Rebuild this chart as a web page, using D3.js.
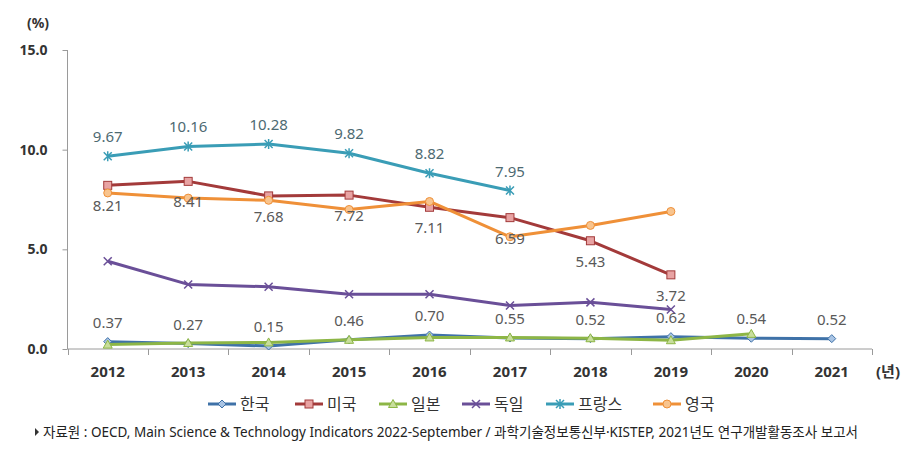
<!DOCTYPE html>
<html><head><meta charset="utf-8">
<script src="https://cdn.jsdelivr.net/npm/d3@7"></script>
<style>body{margin:0;background:#fff}svg{display:block}</style>
</head><body>
<svg id="c" width="901" height="457"></svg>
<script>
const years = ["2012","2013","2014","2015","2016","2017","2018","2019","2020","2021"];
const yTicks = [0, 5, 10, 15];
const korea   = [0.37,0.27,0.15,0.46,0.70,0.55,0.52,0.62,0.54,0.52];
const usa     = [8.21,8.41,7.68,7.72,7.11,6.59,5.43,3.72];
const japan   = [0.22,0.30,0.33,0.46,0.58,0.58,0.54,0.44,0.76];
const germany = [4.40,3.24,3.12,2.75,2.75,2.18,2.34,1.98];
const france  = [9.67,10.16,10.28,9.82,8.82,7.95];
const uk      = [7.83,7.57,7.46,7.00,7.40,5.63,6.20,6.90];
const seriesNames = ["한국","미국","일본","독일","프랑스","영국"];
const sourceText = "자료원 : OECD, Main Science & Technology Indicators 2022-September / 과학기술정보통신부·KISTEP, 2021년도 연구개발활동조사 보고서";

const series = [
  {name: seriesNames[0], data: korea,   line:"#3F72A8", fill:"#A9C4E4", marker:"diamond", label:"above", lc:"#595959"},
  {name: seriesNames[1], data: usa,     line:"#A33A3A", fill:"#E8A3A3", marker:"square",  label:"below", lc:"#595959"},
  {name: seriesNames[2], data: japan,   line:"#8DB646", fill:"#C8DE9C", marker:"triangle",label:null},
  {name: seriesNames[3], data: germany, line:"#6A4F98", fill:"#6A4F98", marker:"x",       label:null},
  {name: seriesNames[4], data: france,  line:"#3A9DB6", fill:"#3A9DB6", marker:"star",    label:"above", lc:"#4d6a72"},
  {name: seriesNames[5], data: uk,      line:"#EF9038", fill:"#F8C48E", marker:"circle",  label:null}
];

const svg = d3.select("#c");
const x = d3.scaleBand().domain(years).range([67.5, 872]);
const y = d3.scaleLinear().domain([0, 15]).range([349, 50]);
const font = "'Noto Sans','Noto Sans CJK KR',sans-serif";

// axes
const yAxis = d3.axisLeft(y).tickValues(yTicks).tickSize(5).tickPadding(15).tickFormat(d3.format(".1f"));
const gy = svg.append("g").attr("transform","translate(67.5,0)").call(yAxis);
gy.select(".domain").attr("stroke","#9a9a9a").attr("d","M0,50V349");
gy.selectAll(".tick line").attr("stroke","#9a9a9a");
gy.selectAll("text").attr("font-family",font).attr("font-size",14).attr("font-weight","bold").attr("fill","#333");

const gx = svg.append("g").attr("transform","translate(0,349)");
gx.append("line").attr("x1",67.5).attr("x2",872).attr("stroke","#9a9a9a");
const bounds = years.map(d=>x(d)).concat([x(years[years.length-1])+x.bandwidth()]);
gx.selectAll("line.t").data(bounds).join("line").attr("class","t")
  .attr("x1",d=>Math.round(d)+0.5).attr("x2",d=>Math.round(d)+0.5).attr("y1",0).attr("y2",6).attr("stroke","#9a9a9a");
gx.selectAll("text").data(years).join("text")
  .attr("x",d=>x(d)+x.bandwidth()/2).attr("y",28).attr("text-anchor","middle")
  .attr("font-family",font).attr("font-size",15).attr("font-weight","bold").attr("fill","#333").text(d=>d);

svg.append("text").attr("x",38).attr("y",28).attr("text-anchor","middle").attr("font-family",font)
  .attr("font-size",14).attr("font-weight","bold").attr("fill","#333").text("(%)");
svg.append("text").attr("x",876).attr("y",377).attr("font-family",font)
  .attr("font-size",15).attr("font-weight","bold").attr("fill","#333").text("(년)");

function drawMarker(g, type, s) {
  const sz = 4;
  if (type==="diamond") g.append("path").attr("d",`M0,${-sz}L${sz},0L0,${sz}L${-sz},0Z`).attr("fill",s.fill).attr("stroke",s.line).attr("stroke-width",1);
  else if (type==="square") g.append("rect").attr("x",-4).attr("y",-4).attr("width",8).attr("height",8).attr("fill",s.fill).attr("stroke",s.line).attr("stroke-width",1);
  else if (type==="triangle") g.append("path").attr("d","M0,-4.5L4.5,3.5L-4.5,3.5Z").attr("fill",s.fill).attr("stroke",s.line).attr("stroke-width",1);
  else if (type==="circle") g.append("circle").attr("r",4).attr("fill",s.fill).attr("stroke",s.line).attr("stroke-width",1);
  else if (type==="x") g.append("path").attr("d","M-4,-4L4,4M4,-4L-4,4").attr("stroke",s.line).attr("stroke-width",1.5);
  else if (type==="star") g.append("path").attr("d","M-4,-4L4,4M4,-4L-4,4M0,-5V5").attr("stroke",s.line).attr("stroke-width",1.5);
}

const cx = (i)=> x(years[i]) + x.bandwidth()/2;
const line = d3.line().x((d,i)=>cx(i)).y(d=>y(d));

series.forEach(s=>{
  const g = svg.append("g");
  g.append("path").datum(s.data).attr("d",line).attr("fill","none").attr("stroke",s.line)
    .attr("stroke-width",3).attr("stroke-linejoin","round");
  s.data.forEach((v,i)=>{
    const m = g.append("g").attr("transform",`translate(${cx(i)},${y(v)})`);
    drawMarker(m, s.marker, s);
  });
});

// data labels (on top)
series.forEach(s=>{
  if (!s.label) return;
  svg.append("g").selectAll("text").data(s.data).join("text")
    .attr("x",(d,i)=>cx(i)).attr("y",d=>y(d) + (s.label==="above" ? -19 : 21) + 5)
    .attr("text-anchor","middle").attr("font-family",font).attr("font-size",15)
    .attr("fill",s.lc).text(d=>d.toFixed(2));
});

// legend
const legX = [208, 295, 379, 462, 546, 653];
const lg = svg.append("g").attr("transform","translate(0,404)");
series.forEach((s,i)=>{
  const g = lg.append("g").attr("transform",`translate(${legX[i]},0)`);
  g.append("line").attr("x1",0).attr("x2",28).attr("stroke",s.line).attr("stroke-width",3);
  const m = g.append("g").attr("transform","translate(14,0)");
  drawMarker(m, s.marker, s);
  g.append("text").attr("x",32).attr("y",6).attr("font-family",font).attr("font-size",16)
    .attr("fill","#333").text(s.name);
});

// source
svg.append("path").attr("d","M35,428L39,432L35,436Z").attr("fill","#333");
svg.append("text").attr("x",43).attr("y",437).attr("font-family",font).attr("font-size",14)
  .attr("fill","#222").attr("textLength",815).attr("lengthAdjust","spacingAndGlyphs").text(sourceText);
</script>
</body></html>
